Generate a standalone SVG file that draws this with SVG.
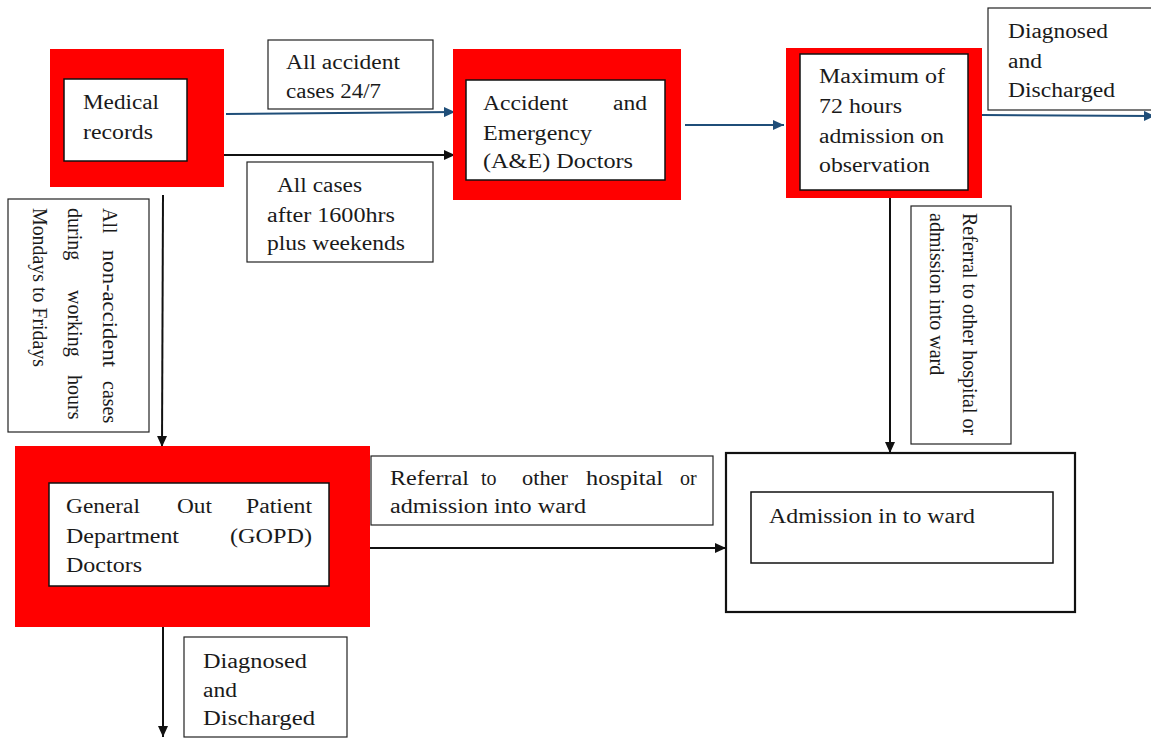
<svg xmlns="http://www.w3.org/2000/svg" width="1151" height="738" viewBox="0 0 1151 738">
<style>
.red{fill:#ff0000;}
.inner{fill:#fff;stroke:#111;stroke-width:1.5;}
.lbl{fill:#fff;stroke:#222;stroke-width:1.2;}
.outer{fill:#fff;stroke:#111;stroke-width:2.2;}
text{font-family:"Liberation Serif","Times New Roman",serif;font-size:20px;fill:#1a1a1a;}
.blk{stroke:#111;stroke-width:2;fill:none;}
.blu{stroke:#1f4e79;stroke-width:2;fill:none;}
</style>
<defs>
<marker id="ab" markerUnits="userSpaceOnUse" markerWidth="12" markerHeight="10" refX="11" refY="5" orient="auto"><path d="M0,0 L11,5 L0,10 z" fill="#111"/></marker>
<marker id="au" markerUnits="userSpaceOnUse" markerWidth="12" markerHeight="10" refX="11" refY="5" orient="auto"><path d="M0,0 L11,5 L0,10 z" fill="#1f4e79"/></marker>
</defs>
<rect width="1151" height="738" fill="#fff"/>

<g id="connectors">
<line class="blu" x1="226" y1="114" x2="455" y2="112" marker-end="url(#au)"/>
<line class="blk" x1="224" y1="155" x2="455" y2="155" marker-end="url(#ab)"/>
<line class="blu" x1="685" y1="125" x2="784" y2="125" marker-end="url(#au)"/>
<line class="blu" x1="982" y1="115" x2="1155" y2="116" marker-end="url(#au)"/>
<line class="blk" x1="163" y1="195" x2="162" y2="447" marker-end="url(#ab)"/>
<line class="blk" x1="890" y1="198" x2="890" y2="453" marker-end="url(#ab)"/>
<line class="blk" x1="370" y1="548" x2="726" y2="548" marker-end="url(#ab)"/>
<line class="blk" x1="163" y1="627" x2="163" y2="737" marker-end="url(#ab)"/>
</g>

<g id="medical-records">
<rect class="red" x="50" y="49" width="174" height="138"/>
<rect class="inner" x="64" y="79" width="123" height="82"/>
<text x="83" y="109" textLength="76" lengthAdjust="spacingAndGlyphs">Medical</text>
<text x="83" y="139" textLength="70" lengthAdjust="spacingAndGlyphs">records</text>
</g>

<g id="label-accident">
<rect class="lbl" x="268" y="40" width="165" height="69"/>
<text x="286" y="69" textLength="114" lengthAdjust="spacingAndGlyphs">All accident</text>
<text x="286" y="98" textLength="95" lengthAdjust="spacingAndGlyphs">cases 24/7</text>
</g>

<g id="label-after">
<rect class="lbl" x="247" y="162" width="186" height="100"/>
<text x="277" y="192" textLength="85" lengthAdjust="spacingAndGlyphs">All cases</text>
<text x="267" y="222" textLength="128" lengthAdjust="spacingAndGlyphs">after 1600hrs</text>
<text x="267" y="250" textLength="138" lengthAdjust="spacingAndGlyphs">plus weekends</text>
</g>

<g id="ae-doctors">
<rect class="red" x="453" y="49" width="228" height="151"/>
<rect class="inner" x="466" y="80" width="199" height="100"/>
<text x="483" y="110" textLength="85" lengthAdjust="spacingAndGlyphs">Accident</text>
<text x="613" y="110" textLength="34" lengthAdjust="spacingAndGlyphs">and</text>
<text x="483" y="140" textLength="109" lengthAdjust="spacingAndGlyphs">Emergency</text>
<text x="483" y="168" textLength="150" lengthAdjust="spacingAndGlyphs">(A&amp;E) Doctors</text>
</g>

<g id="observation">
<rect class="red" x="786" y="48" width="196" height="150"/>
<rect class="inner" x="800" y="54" width="168" height="136"/>
<text x="819" y="83" textLength="126" lengthAdjust="spacingAndGlyphs">Maximum of</text>
<text x="819" y="113" textLength="83" lengthAdjust="spacingAndGlyphs">72 hours</text>
<text x="819" y="143" textLength="125" lengthAdjust="spacingAndGlyphs">admission on</text>
<text x="819" y="172" textLength="111" lengthAdjust="spacingAndGlyphs">observation</text>
</g>

<g id="label-discharged-top">
<rect class="lbl" x="988" y="8" width="170" height="102"/>
<text x="1008" y="38" textLength="100" lengthAdjust="spacingAndGlyphs">Diagnosed</text>
<text x="1008" y="68" textLength="34" lengthAdjust="spacingAndGlyphs">and</text>
<text x="1008" y="97" textLength="107" lengthAdjust="spacingAndGlyphs">Discharged</text>
</g>

<g id="label-non-accident">
<rect class="lbl" x="8" y="199" width="141" height="233"/>
<text transform="translate(103,208) rotate(90)" font-size="19">All</text>
<text transform="translate(103,250) rotate(90)" font-size="19" textLength="117" lengthAdjust="spacingAndGlyphs">non-accident</text>
<text transform="translate(103,381) rotate(90)" font-size="19">cases</text>
<text transform="translate(68,208) rotate(90)" font-size="19">during</text>
<text transform="translate(68,290) rotate(90)" font-size="19">working</text>
<text transform="translate(68,375) rotate(90)" font-size="19">hours</text>
<text transform="translate(33,208) rotate(90)" font-size="19" textLength="159" lengthAdjust="spacingAndGlyphs">Mondays to Fridays</text>
</g>

<g id="label-referral-right">
<rect class="lbl" x="911" y="206" width="100" height="238"/>
<text transform="translate(963,213) rotate(90)">Referral to other hospital or</text>
<text transform="translate(930,213) rotate(90)">admission into ward</text>
</g>

<g id="gopd-doctors">
<rect class="red" x="15" y="446" width="355" height="181"/>
<rect class="inner" x="49" y="483" width="280" height="103"/>
<text x="66" y="513" textLength="74" lengthAdjust="spacingAndGlyphs">General</text>
<text x="177" y="513" textLength="35" lengthAdjust="spacingAndGlyphs">Out</text>
<text x="246" y="513" textLength="66" lengthAdjust="spacingAndGlyphs">Patient</text>
<text x="66" y="543" textLength="113" lengthAdjust="spacingAndGlyphs">Department</text>
<text x="230" y="543" textLength="82" lengthAdjust="spacingAndGlyphs">(GOPD)</text>
<text x="66" y="572" textLength="76" lengthAdjust="spacingAndGlyphs">Doctors</text>
</g>

<g id="label-referral-bottom">
<rect class="lbl" x="371" y="456" width="342" height="69"/>
<text x="390" y="485" textLength="79" lengthAdjust="spacingAndGlyphs">Referral</text>
<text x="481" y="485">to</text>
<text x="522" y="485" textLength="46" lengthAdjust="spacingAndGlyphs">other</text>
<text x="586" y="485" textLength="77" lengthAdjust="spacingAndGlyphs">hospital</text>
<text x="680" y="485">or</text>
<text x="390" y="513" textLength="196" lengthAdjust="spacingAndGlyphs">admission into ward</text>
</g>

<g id="admission-ward">
<rect class="outer" x="726" y="453" width="349" height="159"/>
<rect class="inner" x="751" y="492" width="302" height="71"/>
<text x="769" y="523" textLength="206" lengthAdjust="spacingAndGlyphs">Admission in to ward</text>
</g>

<g id="label-discharged-bottom">
<rect class="lbl" x="184" y="637" width="163" height="100"/>
<text x="203" y="668" textLength="104" lengthAdjust="spacingAndGlyphs">Diagnosed</text>
<text x="203" y="697" textLength="34" lengthAdjust="spacingAndGlyphs">and</text>
<text x="203" y="725" textLength="112" lengthAdjust="spacingAndGlyphs">Discharged</text>
</g>
</svg>
